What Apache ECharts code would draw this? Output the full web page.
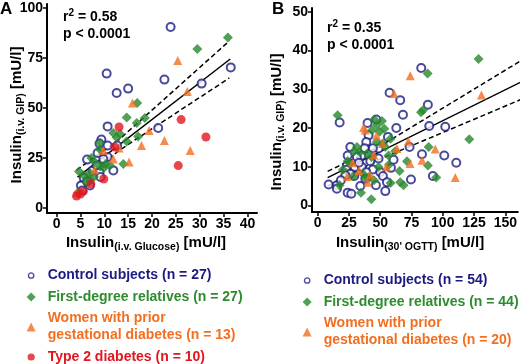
<!DOCTYPE html>
<html>
<head>
<meta charset="utf-8">
<script src="https://cdn.jsdelivr.net/npm/echarts@6.0.0/dist/echarts.min.js"></script>
<style>
  html, body { margin: 0; padding: 0; background: #fff; }
  #chart { width: 520px; height: 364px; }
</style>
</head>
<body>
<div id="chart"></div>
<script>
// Panel A: insulin after i.v. glucose vs i.v. GIP
const controlA = [[23.9,90.5],[10.5,67.2],[12.6,57.5],[15.0,59.7],[22.6,64.2],[36.5,70.3],[30.4,62.2],[10.7,40.8],[21.3,40.0],[9.4,34.2],[9.0,32.2],[10.7,31.2],[12.7,31.2],[6.4,24.2],[10.7,25.5],[11.9,18.8],[7.6,18.8],[8.4,21.3],[9.0,17.8],[9.2,15.5],[5.7,15.0],[5.1,11.2],[7.0,11.3],[5.4,8.8],[9.8,24.5],[6.4,13.3],[8.6,27.5]];
const relativesA = [[35.9,85.3],[29.5,79.5],[16.9,52.5],[14.7,45.3],[18.5,45.0],[16.8,42.5],[12.6,35.3],[13.3,37.0],[14.7,33.3],[17.1,35.8],[11.9,37.5],[9.1,29.2],[14.0,22.0],[10.3,22.0],[9.9,20.0],[11.2,21.2],[7.3,25.0],[4.7,18.3],[5.7,16.3],[7.8,15.5],[7.0,17.5],[4.5,7.8],[6.9,14.2],[9.1,32.5],[6.3,12.8],[9.1,20.8],[8.0,23.0]];
const gdmA = [[25.4,73.8],[15.9,52.5],[27.4,58.3],[19.4,38.7],[17.8,31.2],[22.6,33.7],[28.0,28.7],[15.2,23.0],[13.1,30.0],[11.9,24.5],[4.2,7.5],[9.8,28.8],[8.0,19.0]];
const t2dA = [[26.1,44.2],[31.3,35.5],[25.5,21.2],[13.1,40.5],[9.9,14.5],[4.2,6.0],[5.0,7.0],[5.6,8.3],[12.2,30.5],[7.2,12.0]];
const fitA = [[4.4,15.4],[36.4,74.5]];
const ciUpA = [[4.2,19.0],[13,34.0],[36.2,83.5]];
const ciLoA = [[4.4,12.0],[13,28.6],[36.2,65.0]];
const ticksXA = [0,5,10,15,20,25,30,35,40];
const ticksYA = [0,25,50,75,100];

// Panel B: insulin at 30' OGTT vs i.v. GIP
const controlB = [[82.8,35.5],[57.5,29.1],[66.0,27.2],[88.1,26.0],[68.2,23.4],[17.6,21.4],[39.9,21.3],[46.9,22.2],[40.7,18.1],[62.9,20.0],[89.2,20.5],[102.0,20.3],[38.9,16.4],[56.2,17.7],[37.6,14.8],[48.7,14.7],[73.5,15.1],[26.1,15.1],[83.4,13.2],[101.2,12.9],[34.9,12.8],[24.0,12.9],[60.7,11.8],[48.7,12.1],[42.1,11.4],[23.4,10.3],[29.6,9.9],[35.4,9.9],[44.2,9.3],[22.9,9.2],[50.1,8.6],[58.6,9.7],[29.3,7.6],[38.9,8.6],[52.2,7.6],[92.1,7.6],[110.8,11.0],[74.6,6.7],[8.8,5.4],[15.4,5.2],[15.4,4.3],[34.1,5.0],[46.6,5.2],[55.4,6.0],[54.1,3.7],[24.0,3.3],[26.9,3.0],[44.2,14.8],[26.1,8.2],[22.1,7.8],[38.1,6.9],[31.4,12.5],[18.6,6.5],[33.0,11.0]];
const relativesB = [[128.6,37.8],[87.9,34.1],[84.2,24.6],[82.6,24.1],[121.2,17.1],[16.0,23.3],[45.3,22.2],[51.4,21.8],[47.3,20.7],[53.3,19.8],[43.4,19.4],[31.4,15.1],[47.3,16.4],[58.3,17.2],[39.4,13.4],[54.1,15.1],[56.7,12.9],[88.7,15.1],[71.4,11.4],[88.1,10.3],[65.5,8.9],[20.2,9.2],[17.6,5.2],[40.7,7.3],[66.0,6.0],[68.7,5.2],[94.8,7.2],[58.3,5.8],[34.6,3.3],[42.9,1.6],[26.1,10.8],[36.2,8.2],[48.7,9.9],[33.6,13.8],[49.5,19.0],[38.5,7.0],[28.5,7.5],[29.0,14.0],[52.0,16.0],[43.0,12.5],[62.0,14.0],[24.0,11.5],[45.0,6.5],[57.0,10.5]];
const gdmB = [[74.0,33.5],[130.9,28.5],[61.0,28.9],[36.7,20.1],[72.5,16.6],[63.4,14.7],[94.0,14.6],[83.4,11.7],[73.8,10.8],[110.0,7.2],[23.7,7.5],[42.0,7.9],[38.0,19.5],[28.0,11.0],[45.0,13.0],[52.0,16.0],[33.0,9.0],[55.0,10.0],[47.0,18.0],[40.0,6.0]];
const fitB = [[8,7.2],[162,31.8]];
const ciUpB = [[8,8.8],[50,15.3],[162,37.3]];
const ciLoB = [[8,5.0],[50,12.0],[162,27.3]];
const ticksXB = [0,25,50,75,100,125,150];
const ticksYB = [0,10,20,30,40,50];

// Legend labels
const namesA = ['Control subjects (n = 27)', 'First-degree relatives (n = 27)', 'Women with prior\ngestational diabetes (n = 13)', 'Type 2 diabetes (n = 10)'];
const namesB = ['Control subjects (n = 54)', 'First-degree relatives (n = 44)', 'Women with prior\ngestational diabetes (n = 20)'];

// 样式
const FONT = 'Liberation Sans, Arial, sans-serif';
const COLORS = {
  control: '#1b1b86',
  relatives: '#27882b',
  gdm: '#f26f21',
  t2d: '#e3161f'
};
const TEXT_COLORS = ['#1b1b80', '#2e8b2e', '#f26f21', '#e3161f'];

const MARKERS = [
  { symbol: 'emptyCircle', size: 8, style: { color: COLORS.control, borderColor: COLORS.control, borderWidth: 1.6 } },
  { symbol: 'diamond', size: 10, style: { color: COLORS.relatives } },
  { symbol: 'triangle', size: 9, style: { color: COLORS.gdm } },
  { symbol: 'circle', size: 9, style: { color: COLORS.t2d } }
];

// 图例小圆：两个空 moveTo 点撑大包围盒，让圆比菱形/三角小一些
const SMALL_CIRCLE = 'path://M0,0M10,10M2,5a3,3 0 1,0 6,0a3,3 0 1,0 -6,0z';
const MID_CIRCLE = 'path://M0,0M10,10M1,5a4,4 0 1,0 8,0a4,4 0 1,0 -8,0z';

function scatter(name, data, idx, marker) {
  return {
    name, type: 'scatter', data,
    xAxisIndex: idx, yAxisIndex: idx,
    symbol: marker.symbol, symbolSize: marker.size,
    itemStyle: marker.style,
    z: 3
  };
}

function line(name, data, idx, dashed) {
  return {
    name, type: 'line', data,
    xAxisIndex: idx, yAxisIndex: idx,
    showSymbol: false, silent: true,
    lineStyle: { color: '#000', width: 1.5, type: dashed ? [5, 3] : 'solid' },
    z: 2
  };
}

function valueAxis(idx, min, max, ticks) {
  return {
    type: 'value', gridIndex: idx, min, max,
    splitLine: { show: false },
    axisLine: { show: true, onZero: false, lineStyle: { color: '#000', width: 2 } },
    axisTick: { show: true, length: 4, lineStyle: { color: '#000', width: 1.5 }, customValues: ticks },
    axisLabel: {
      customValues: ticks, color: '#000', fontSize: 14, fontWeight: 'bold',
      fontFamily: FONT, margin: 4
    }
  };
}

const titleRich = {
  m: { fontSize: 15, fontWeight: 'bold', fontFamily: FONT, color: '#000' },
  s: { fontSize: 10.5, fontWeight: 'bold', fontFamily: FONT, color: '#000', padding: [9, 0, 0, 0] }
};
const statRich = {
  m: { fontSize: 14, fontWeight: 'bold', fontFamily: FONT, color: '#000', lineHeight: 18 },
  p: { fontSize: 10, fontWeight: 'bold', fontFamily: FONT, color: '#000', padding: [0, 0, 8, 0] }
};

function text(x, y, str, rich) {
  return {
    type: 'text', x, y,
    style: { text: str, rich, align: 'left', verticalAlign: 'middle' }
  };
}

function axisTitle(x, y, str, vertical) {
  return {
    type: 'text', x, y,
    rotation: vertical ? Math.PI / 2 : 0,
    style: { text: str, rich: titleRich, align: 'center', verticalAlign: 'middle' }
  };
}

function legendItem(name, i) {
  const item = { name, textStyle: { color: TEXT_COLORS[i] } };
  if (i === 0) {
    item.icon = SMALL_CIRCLE;
    item.itemStyle = { color: '#fff', borderColor: COLORS.control, borderWidth: 1.3 };
  } else if (i === 3) {
    item.icon = MID_CIRCLE;
  }
  return item;
}

function legend(left, top, names) {
  return {
    orient: 'vertical', left, top, height: 100, padding: 0,
    itemWidth: 9, itemHeight: 9, itemGap: 4.5,
    selectedMode: false,
    textStyle: { fontSize: 14, fontWeight: 'bold', fontFamily: FONT, lineHeight: 17, padding: [0, 0, 0, 7] },
    data: names.map(legendItem)
  };
}

const option = {
  animation: false,
  grid: [
    { left: 47, top: 4, width: 210, height: 209 },
    { left: 312, top: 8, width: 206, height: 204 }
  ],
  xAxis: [
    valueAxis(0, -2, 42, ticksXA),
    valueAxis(1, -4.5, 160, ticksXB)
  ],
  yAxis: [
    valueAxis(0, -2.5, 102, ticksYA),
    valueAxis(1, -1.7, 51, ticksYB)
  ],
  legend: [legend(26, 267, namesA), legend(302, 272, namesB)],
  graphic: [
    { type: 'text', x: 0, y: 9, style: { text: 'A', fontSize: 17, fontWeight: 'bold', fontFamily: FONT, fill: '#000', verticalAlign: 'middle' } },
    { type: 'text', x: 272, y: 9, style: { text: 'B', fontSize: 17, fontWeight: 'bold', fontFamily: FONT, fill: '#000', verticalAlign: 'middle' } },
    text(63, 17, '{m|r}{p|2}{m| = 0.58}', statRich),
    text(63, 34, '{m|p < 0.0001}', statRich),
    text(327, 28, '{m|r}{p|2}{m| = 0.35}', statRich),
    text(327, 45, '{m|p < 0.0001}', statRich),
    // 坐标轴标题
    axisTitle(146, 243, '{m|Insulin}{s|(i.v. Glucose)}{m| [mU/l]}', false),
    axisTitle(410, 243, "{m|Insulin}{s|(30' OGTT)}{m| [mU/l]}", false),
    axisTitle(17, 115, '{m|Insulin}{s|(i.v. GIP)}{m| [mU/l]}', true),
    axisTitle(277, 122, '{m|Insulin}{s|(i.v. GIP)}{m| [mU/l]}', true)
  ],
  series: [
    line('fitA', fitA, 0, false),
    line('ciUpA', ciUpA, 0, true),
    line('ciLoA', ciLoA, 0, true),
    scatter(namesA[0], controlA, 0, MARKERS[0]),
    scatter(namesA[1], relativesA, 0, MARKERS[1]),
    scatter(namesA[2], gdmA, 0, MARKERS[2]),
    scatter(namesA[3], t2dA, 0, MARKERS[3]),
    line('fitB', fitB, 1, false),
    line('ciUpB', ciUpB, 1, true),
    line('ciLoB', ciLoB, 1, true),
    scatter(namesB[0], controlB, 1, MARKERS[0]),
    scatter(namesB[1], relativesB, 1, MARKERS[1]),
    scatter(namesB[2], gdmB, 1, MARKERS[2])
  ]
};

const chart = echarts.init(document.getElementById('chart'), null, { renderer: 'canvas' });
chart.setOption(option);
</script>
</body>
</html>
